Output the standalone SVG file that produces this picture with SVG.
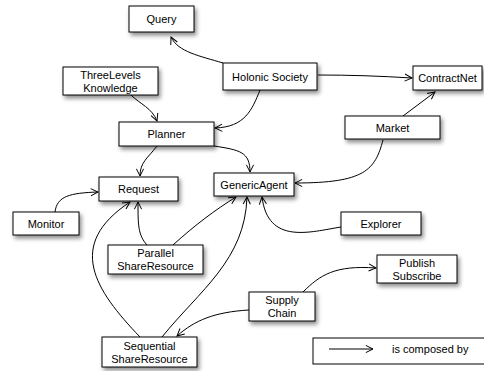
<svg xmlns="http://www.w3.org/2000/svg" width="484" height="371" viewBox="0 0 484 371">
<style>
.box{fill:#fff;stroke:#000;stroke-width:1;filter:url(#sh)}
.t{font-family:"Liberation Sans",Arial,sans-serif;font-size:11px;fill:#000;text-anchor:middle}
.c{fill:none;stroke:#000;stroke-width:1;marker-end:url(#ah)}
</style>
<defs>
<filter id="sh" x="-20%" y="-30%" width="150%" height="180%">
<feDropShadow dx="2" dy="3" stdDeviation="2" flood-color="#000" flood-opacity="0.45"/>
</filter>
<marker id="ah" viewBox="0 0 10 10" refX="9" refY="5" markerWidth="9" markerHeight="9" markerUnits="userSpaceOnUse" orient="auto">
<path d="M1,1 L9,5 L1,9" fill="none" stroke="#000" stroke-width="1.1"/>
</marker>
</defs>
<rect width="484" height="371" fill="#fff"/>
<g id="connectors">
<path class="c" d="M223,63 C200,56 178,52 171,37"/>
<path class="c" d="M318,75 C350,75 380,76 412,78"/>
<path class="c" d="M260,90 C252,110 245,127 215,128"/>
<path class="c" d="M131,95 C140,104 152,108 157,121"/>
<path class="c" d="M157,146 C148,158 140,162 140,176"/>
<path class="c" d="M214,146 C240,150 250,152 250,172"/>
<path class="c" d="M403,116 L435,92"/>
<path class="c" d="M383,140 C375,170 365,183 295,183"/>
<path class="c" d="M55,212 C57,196 70,193 98,192"/>
<path class="c" d="M341,227 C310,232 268,245 262,197"/>
<path class="c" d="M147,245 C138,235 138,225 138,202"/>
<path class="c" d="M173,245 C195,225 215,210 236,197"/>
<path class="c" d="M140,337 C95,290 65,245 130,202"/>
<path class="c" d="M162,337 C200,290 245,260 247,197"/>
<path class="c" d="M249,310 C215,312 195,320 177,336"/>
<path class="c" d="M303,292 C320,275 335,265 376,268"/>
</g>
<g id="query"><rect class="box" x="129" y="6" width="65" height="26"/><text class="t" x="161.5" y="23">Query</text></g>
<g id="holonic"><rect class="box" x="223" y="63" width="94" height="27"/><text class="t" x="270" y="80.5">Holonic Society</text></g>
<g id="contractnet"><rect class="box" x="413" y="66" width="69" height="24"/><text class="t" x="447.5" y="82">ContractNet</text></g>
<g id="threelevels"><rect class="box" x="63" y="67" width="95" height="28"/><text class="t" x="110.5" y="78.5">ThreeLevels</text><text class="t" x="110.5" y="91.5">Knowledge</text></g>
<g id="planner"><rect class="box" x="119" y="122" width="95" height="24"/><text class="t" x="166.5" y="138">Planner</text></g>
<g id="market"><rect class="box" x="345" y="116" width="95" height="23"/><text class="t" x="392.5" y="131.5">Market</text></g>
<g id="request"><rect class="box" x="99" y="177" width="79" height="24"/><text class="t" x="138.5" y="193">Request</text></g>
<g id="genericagent"><rect class="box" x="214" y="173" width="80" height="23"/><text class="t" x="254" y="188.5">GenericAgent</text></g>
<g id="monitor"><rect class="box" x="13" y="212" width="66" height="23"/><text class="t" x="46" y="227.5">Monitor</text></g>
<g id="explorer"><rect class="box" x="341" y="212" width="80" height="23"/><text class="t" x="381" y="227.5">Explorer</text></g>
<g id="parallel"><rect class="box" x="108" y="245" width="95" height="29"/><text class="t" x="155.5" y="257">Parallel</text><text class="t" x="155.5" y="270">ShareResource</text></g>
<g id="publish"><rect class="box" x="377" y="255" width="80" height="28"/><text class="t" x="417" y="266.5">Publish</text><text class="t" x="417" y="279.5">Subscribe</text></g>
<g id="supply"><rect class="box" x="249" y="292" width="66" height="29"/><text class="t" x="282" y="304">Supply</text><text class="t" x="282" y="317">Chain</text></g>
<g id="sequential"><rect class="box" x="102" y="337" width="95" height="30"/><text class="t" x="149.5" y="349.5">Sequential</text><text class="t" x="149.5" y="362.5">ShareResource</text></g>
<g id="legend"><rect x="313" y="338" width="180" height="26" fill="#fff" stroke="#000"/><path class="c" d="M329,349 L373,349"/><text x="392" y="353" style="font-family:'Liberation Sans',Arial,sans-serif;font-size:11px">is composed by</text></g>
</svg>
